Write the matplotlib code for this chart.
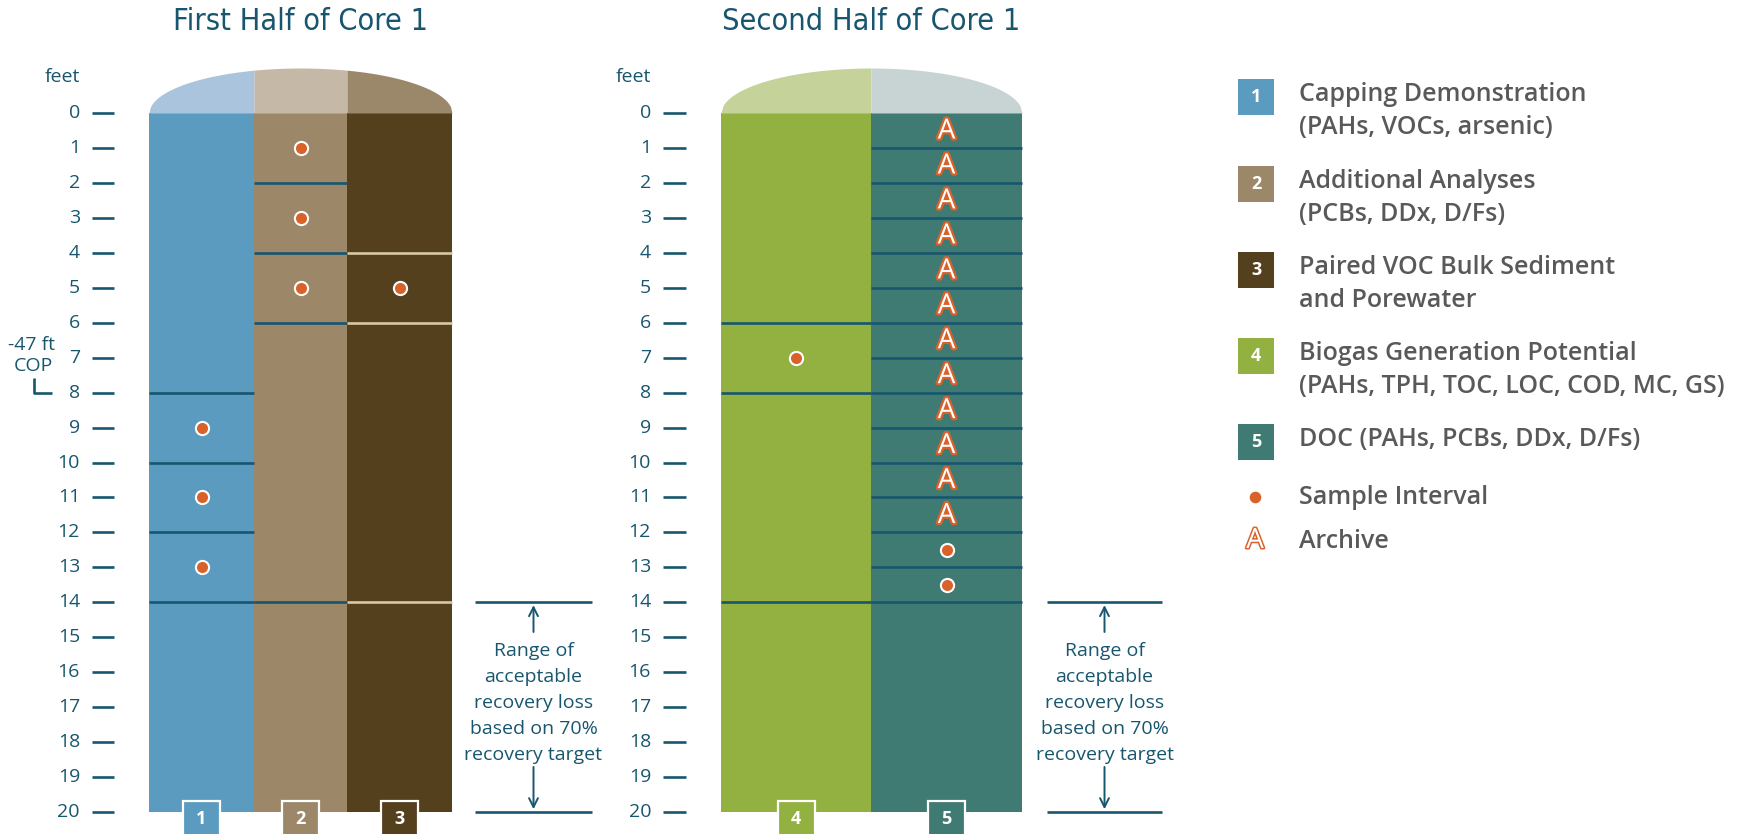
import matplotlib.pyplot as plt
import matplotlib.patches as mpatches
import matplotlib.patheffects as pe
import numpy as np

# ---- data ----
depths = list(range(0, 21))

core1_titles = "First Half of Core 1"
core2_titles = "Second Half of Core 1"

# divider lines (feet) per column
div_1 = [8, 10, 12, 14]
div_2 = [2, 4, 6, 14]
div_3 = [4, 6, 14]
div_4 = [6, 8, 14]
div_5 = [1, 2, 3, 4, 5, 6, 7, 8, 9, 10, 11, 12, 13, 14]

# sample intervals (feet)
samp_1 = [9, 11, 13]
samp_2 = [1, 3, 5]
samp_3 = [5]
samp_4 = [7]
samp_5 = [12.5, 13.5]

# archive intervals (feet)
arch_5 = [0.5, 1.5, 2.5, 3.5, 4.5, 5.5, 6.5, 7.5, 8.5, 9.5, 10.5, 11.5]

legend_labels = [
    ("1", "Capping Demonstration\n(PAHs, VOCs, arsenic)"),
    ("2", "Additional Analyses\n(PCBs, DDx, D/Fs)"),
    ("3", "Paired VOC Bulk Sediment\nand Porewater"),
    ("4", "Biogas Generation Potential\n(PAHs, TPH, TOC, LOC, COD, MC, GS)"),
    ("5", "DOC (PAHs, PCBs, DDx, D/Fs)"),
]
range_text = "Range of\nacceptable\nrecovery loss\nbased on 70%\nrecovery target"
range_top, range_bottom = 14, 20

# ---- styles ----
teal = "#17566e"
orange = "#d9622b"
grey = "#595959"
col_colors = ["#5b9bc0", "#9c8869", "#54401c", "#92b140", "#3f7b73"]
cap_colors = ["#a9c4dc", "#c5b8a6", "#9b876a", "#c5d39a", "#c8d4d3"]
div_colors = [teal, teal, "#d8c9a3", teal, teal]

W, H = 1752, 834
Y0, PPF = 113, 34.95  # pixel of 0 ft and pixels per foot


def fy(px):
    return (px - Y0) / PPF


fig = plt.figure(figsize=(W / 100, H / 100), dpi=100)
ax = fig.add_axes([0, 0, 1, 1])
ax.set_xlim(0, W)
ax.set_ylim(fy(H), fy(0))
ax.axis("off")

font = "Open Sans"

cores = [
    dict(edges=[149, 254, 347, 452], cols=[0, 1, 2], tick_x=(92, 114), lab_x=80,
         title=core1_titles, rng_x=(475, 592)),
    dict(edges=[721, 871, 1022], cols=[3, 4], tick_x=(663, 686), lab_x=651,
         title=core2_titles, rng_x=(1047, 1162)),
]
divs = [div_1, div_2, div_3, div_4, div_5]
samps = [samp_1, samp_2, samp_3, samp_4, samp_5]
cap_b = 45 / PPF

for core in cores:
    e = core["edges"]
    cx = (e[0] + e[-1]) / 2
    a = (e[-1] - e[0]) / 2
    for k, ci in enumerate(core["cols"]):
        x0, x1 = e[k], e[k + 1]
        ax.add_patch(mpatches.Rectangle((x0, 0), x1 - x0, 20, color=col_colors[ci], lw=0, zorder=1))
        xs = np.linspace(x0, x1, 80)
        ys = -cap_b * np.sqrt(np.clip(1 - ((xs - cx) / a) ** 2, 0, 1))
        ax.fill_between(xs, ys, 0, color=cap_colors[ci], lw=0, zorder=1)
        for d in divs[ci]:
            ax.plot([x0, x1], [d, d], color=div_colors[ci], lw=1.9, solid_capstyle="butt", zorder=2)
        if samps[ci]:
            ax.scatter([(x0 + x1) / 2] * len(samps[ci]), samps[ci], s=90, color=orange,
                       edgecolor="white", linewidth=1.5, zorder=4)
        if ci == 4:
            for d in arch_5:
                ax.text((x0 + x1) / 2, d + 0.03, "A", ha="center", va="center", color="white",
                        fontsize=20, family=font, zorder=4,
                        path_effects=[pe.Stroke(linewidth=3.2, foreground=orange), pe.Normal()])
        # number box at the bottom
        bw = 37
        bx = (x0 + x1) / 2 - bw / 2
        ax.add_patch(mpatches.Rectangle((bx, fy(801)), bw, fy(H + 5) - fy(801), facecolor=col_colors[ci],
                                        edgecolor="white", lw=1.6, zorder=5))
        ax.text((x0 + x1) / 2, fy(819), str(ci + 1), ha="center", va="center", color="white",
                fontsize=13, fontweight="bold", family=font, zorder=6)

    # depth axis
    t0, t1 = core["tick_x"]
    for d in depths:
        ax.plot([t0, t1], [d, d], color=teal, lw=1.9, solid_capstyle="butt")
        ax.text(core["lab_x"], d, str(d), ha="right", va="center", color=teal, fontsize=14, family=font)
    ax.text(core["lab_x"], fy(77), "feet", ha="right", va="center", color=teal, fontsize=14, family=font)

    # title
    ax.text(cx, fy(21), core["title"], ha="center", va="center", color=teal, fontsize=22,
            family="DejaVu Sans", fontstretch="condensed")

    # range of acceptable recovery loss
    r0, r1 = core["rng_x"]
    rc = (r0 + r1) / 2
    for d in (range_top, range_bottom):
        ax.plot([r0, r1], [d, d], color=teal, lw=1.9, solid_capstyle="butt")
    ax.annotate("", xy=(rc, range_top + 0.08), xytext=(rc, fy(632)),
                arrowprops=dict(arrowstyle="->", color=teal, lw=1.4, mutation_scale=16, shrinkA=0, shrinkB=0))
    ax.annotate("", xy=(rc, range_bottom - 0.08), xytext=(rc, fy(767)),
                arrowprops=dict(arrowstyle="->", color=teal, lw=1.4, mutation_scale=16, shrinkA=0, shrinkB=0))
    ax.text(rc, fy(703), range_text, ha="center", va="center", color=teal, fontsize=14,
            family=font, linespacing=1.57)

# -47 ft COP label
ax.text(32, fy(345), "-47 ft", ha="center", va="center", color=teal, fontsize=14, family=font)
ax.text(33, fy(366), "COP", ha="center", va="center", color=teal, fontsize=14, family=font)
ax.plot([34, 34, 52], [fy(378), 8, 8], color=teal, lw=1.9, solid_capstyle="butt")

# legend
box_y = [97, 184, 270, 356, 442]
for (num, label), yb, ci in zip(legend_labels, box_y, range(5)):
    ax.add_patch(mpatches.Rectangle((1238, fy(yb + 18)), 36, fy(yb - 18) - fy(yb + 18),
                                    color=col_colors[ci], lw=0))
    ax.text(1256, fy(yb), num, ha="center", va="center", color="white", fontsize=13,
            fontweight="bold", family=font)
    ax.text(1299, fy(yb - 15), label, ha="left", va="top", color=grey, fontsize=18,
            fontweight="semibold", family=font, linespacing=1.4)
ax.scatter([1255], [fy(497)], s=70, color=orange, lw=0)
ax.text(1299, fy(497), "Sample Interval", ha="left", va="center", color=grey, fontsize=18,
        fontweight="semibold", family=font)
ax.text(1255, fy(541), "A", ha="center", va="center", color="white", fontsize=20, family=font,
        path_effects=[pe.Stroke(linewidth=2.2, foreground=orange), pe.Normal()])
ax.text(1299, fy(541), "Archive", ha="left", va="center", color=grey, fontsize=18,
        fontweight="semibold", family=font)

fig.savefig("out.png", dpi=100)
